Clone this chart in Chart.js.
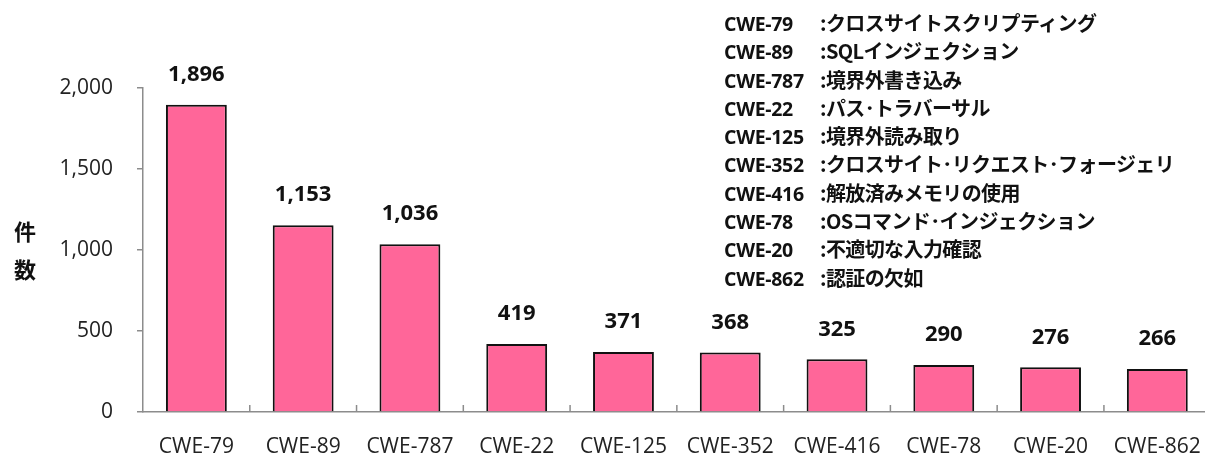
<!DOCTYPE html>
<html>
<head>
<meta charset="utf-8">
<script src="https://cdn.jsdelivr.net/npm/chart.js@4/dist/chart.umd.min.js"></script>
<style>
  html, body { margin: 0; padding: 0; background: #fff; overflow: hidden; }
  #wrap { position: relative; width: 1205px; height: 456px; overflow: hidden; }
  #grafico { position: absolute; left: 0; top: 0; }
  #titulo-y {
    position: absolute; left: 11px; top: 211px; width: 28px;
    font: bold 22px "Noto Sans CJK JP", sans-serif; line-height: 38px; color: #111; text-align: center;
  }
  #notas { position: absolute; left: 724px; top: 8px; color: #111; }
  #notas div { height: 28.3px; line-height: 28.3px; white-space: nowrap; }
  #notas .cod { display: inline-block; width: 96px; font: bold 19.5px "Open Sans", sans-serif; letter-spacing: -0.3px; }
  #notas .nom { font: bold 20px "Noto Sans CJK JP", sans-serif; letter-spacing: -0.6px; }
</style>
</head>
<body>
<div id="wrap">
  <canvas id="grafico" width="1215" height="456"></canvas>
  <div id="titulo-y">件<br>数</div>
  <div id="notas"></div>
</div>
<script>
const categorias = ['CWE-79', 'CWE-89', 'CWE-787', 'CWE-22', 'CWE-125', 'CWE-352', 'CWE-416', 'CWE-78', 'CWE-20', 'CWE-862'];
const cantidades = [1896, 1153, 1036, 419, 371, 368, 325, 290, 276, 266];
const nombres = [
  'クロスサイトスクリプティング',
  'SQLインジェクション',
  '境界外書き込み',
  'パス･トラバーサル',
  '境界外読み取り',
  'クロスサイト･リクエスト･フォージェリ',
  '解放済みメモリの使用',
  'OSコマンド･インジェクション',
  '不適切な入力確認',
  '認証の欠如'
];
const ticksY = [0, 500, 1000, 1500, 2000];

// notas de la derecha
document.getElementById('notas').innerHTML = categorias.map((c, i) =>
  `<div><span class="cod">${c}</span><span class="nom">:${nombres[i]}</span></div>`
).join('');

const etiquetas = {
  id: 'etiquetas',
  afterDatasetsDraw(chart) {
    const ctx = chart.ctx;
    const meta = chart.getDatasetMeta(0);
    ctx.save();
    ctx.font = 'bold 22px "Open Sans", sans-serif';
    ctx.fillStyle = '#111';
    ctx.textAlign = 'center';
    ctx.textBaseline = 'middle';
    meta.data.forEach((bar, i) => {
      ctx.fillText(cantidades[i].toLocaleString('en-US'), bar.x, bar.y - 30);
    });
    // marcas del eje x entre categorias (hacia arriba)
    const x = chart.scales.x;
    const y0 = chart.scales.y.getPixelForValue(0);
    ctx.strokeStyle = '#8c8c8c';
    ctx.lineWidth = 1.5;
    for (let i = 1; i < categorias.length; i++) {
      const px = (x.getPixelForValue(i - 1) + x.getPixelForValue(i)) / 2;
      ctx.beginPath();
      ctx.moveTo(px, y0);
      ctx.lineTo(px, y0 - 7);
      ctx.stroke();
    }
    ctx.restore();
  }
};

new Chart(document.getElementById('grafico'), {
  type: 'bar',
  data: {
    labels: categorias,
    datasets: [{
      data: cantidades,
      backgroundColor: '#FF6699',
      borderColor: '#111',
      borderWidth: 2,
      barPercentage: 0.57,
      categoryPercentage: 1
    }]
  },
  options: {
    responsive: false,
    animation: false,
    devicePixelRatio: 1,
    layout: { padding: { top: 88, right: 3, left: 0, bottom: 0 } },
    plugins: { legend: { display: false }, tooltip: { enabled: false } },
    scales: {
      x: {
        offset: true,
        grid: { display: false },
        border: { display: true, color: '#8c8c8c', width: 1.5 },
        ticks: { color: '#222', font: { size: 21, family: 'Open Sans' }, padding: 14, maxRotation: 0 },
        afterFit: s => { s.height = 44; }
      },
      y: {
        min: 0,
        max: 2000,
        afterBuildTicks: s => { s.ticks = ticksY.map(v => ({ value: v })); },
        grid: { drawOnChartArea: false, tickLength: 6, color: '#8c8c8c', lineWidth: 1.5 },
        border: { display: true, color: '#8c8c8c', width: 1.5 },
        ticks: {
          color: '#222',
          font: { size: 21, family: 'Open Sans' },
          padding: 24,
          callback: v => v.toLocaleString('en-US')
        },
        afterFit: s => { s.width = 143; }
      }
    }
  },
  plugins: [etiquetas]
});
</script>
</body>
</html>
